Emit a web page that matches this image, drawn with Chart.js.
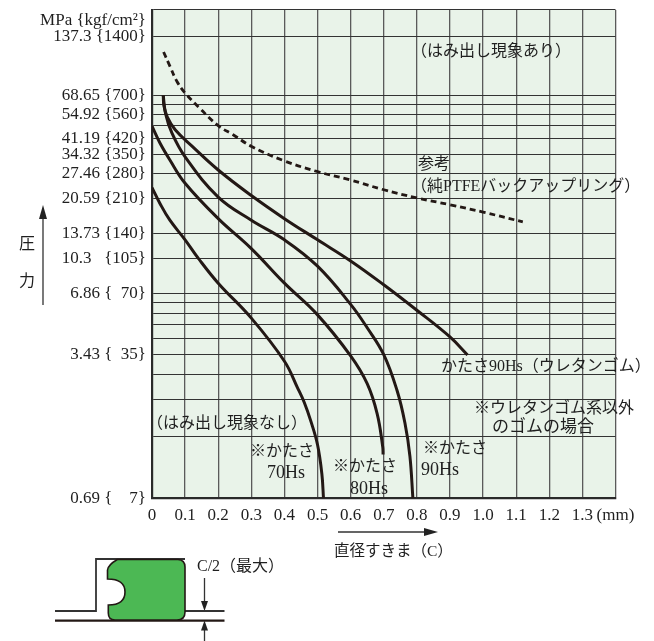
<!DOCTYPE html>
<html lang="ja">
<head>
<meta charset="utf-8">
<title>圧力と直径すきま</title>
<script src="https://cdn.jsdelivr.net/npm/chart.js@4/dist/chart.umd.js"></script>
<style>
  html, body { margin: 0; padding: 0; background: #fff; }
  canvas { display: block; }
</style>
</head>
<body>
<canvas id="chart" width="654" height="641" style="width:654px;height:641px"></canvas>
<script>
// values: x = diametral clearance (mm), y = pressure (kgf/cm2)
const xTicks = [0, 0.1, 0.2, 0.3, 0.4, 0.5, 0.6, 0.7, 0.8, 0.9, 1.0, 1.1, 1.2, 1.3, 1.4];
const xLabels = ['0', '0.1', '0.2', '0.3', '0.4', '0.5', '0.6', '0.7', '0.8', '0.9', '1.0', '1.1', '1.2', '1.3', '(mm)'];

const yMin = 7;
const yMax = 1930;
const yGrid = [7, 14, 21, 28, 35, 42, 49, 56, 63, 70, 105, 140, 210, 280, 350, 420, 490, 560, 630, 700, 1400, 1930];
const yLabelled = [1400, 700, 560, 420, 350, 280, 210, 140, 105, 70, 35, 7];
const yLabels = ['137.3 {1400}', '68.65 {700}', '54.92 {560}', '41.19 {420}', '34.32 {350}', '27.46 {280}',
  '20.59 {210}', '13.73 {140}', '10.3   {105}', '6.86 {  70}', '3.43 {  35}', '0.69 {    7}'];

const urethane90X = [0.034, 0.036, 0.046, 0.07, 0.12, 0.20, 0.30, 0.40, 0.50, 0.60, 0.70, 0.80, 0.90, 0.953];
const urethane90Y = [700, 620, 544, 467, 387, 292, 217, 166, 130, 102, 77.6, 58, 42.8, 34.9];

const hs90X = [0.034, 0.041, 0.06, 0.10, 0.20, 0.30, 0.40, 0.50, 0.60, 0.65, 0.70, 0.74, 0.764, 0.779, 0.788];
const hs90Y = [700, 565, 450, 340, 213, 163, 130, 96, 62, 47.5, 35, 23.4, 16.2, 11.2, 7];

const hs80X = [0, 0.024, 0.054, 0.10, 0.20, 0.30, 0.40, 0.50, 0.60, 0.65, 0.68, 0.697, 0.698];
const hs80Y = [487, 400, 328, 250, 166, 117.5, 79, 55, 34.5, 25.2, 18, 12.4, 11.4];

const hs70X = [0, 0.024, 0.054, 0.10, 0.14, 0.20, 0.30, 0.40, 0.44, 0.46, 0.48, 0.50, 0.513, 0.518];
const hs70Y = [238, 198, 163, 130, 105, 79, 53, 32.5, 24, 20.4, 16.5, 12.7, 9.2, 7];

const ptfeX = [0.035, 0.054, 0.075, 0.10, 0.145, 0.20, 0.245, 0.301, 0.399, 0.498, 0.599, 0.70, 0.80, 0.90, 1.0, 1.12];
const ptfeY = [1170, 990, 827, 720, 600, 490, 441, 384, 325, 287, 260, 232, 211, 195, 179, 160];

const serif = '"Liberation Serif", "Noto Sans CJK JP", serif';
const cjk = '"Liberation Serif", "Noto Sans CJK JP", sans-serif';
const ink = '#231815';
const textColor = '#1f1f1f';

const toPoints = (xs, ys) => xs.map((x, i) => ({ x: x, y: ys[i] }));

// the printed pressure axis is not a pure log axis, the decades get a little shorter upward
class BentLogScale extends Chart.LogarithmicScale {
  static id = 'bentlog';
  static defaults = {};

  bend(value) {
    const u = Math.log10(value / yMin);
    return u - 0.01493 * u * u;
  }
  getPixelForValue(value) {
    if (value === undefined || value <= 0) return this.bottom;
    return this.bottom - this.height * this.bend(value) / this.bend(yMax);
  }
  getValueForPixel(pixel) {
    const f = (this.bottom - pixel) / this.height * this.bend(yMax);
    const u = (1 - Math.sqrt(1 - 4 * 0.01493 * f)) / (2 * 0.01493);
    return yMin * Math.pow(10, u);
  }
}
Chart.register(BentLogScale);

function curve(xs, ys, dashed) {
  return {
    data: toPoints(xs, ys),
    borderColor: ink,
    borderWidth: dashed ? 2.8 : 3,
    borderDash: dashed ? [6, 4] : [],
    pointRadius: 0,
    showLine: true,
    fill: false,
    tension: 0.4,
    borderJoinStyle: 'round'
  };
}

// light green panel behind the grid
const panel = {
  id: 'panel',
  beforeDraw(chart) {
    const a = chart.chartArea;
    chart.ctx.fillStyle = '#e9f3e9';
    chart.ctx.fillRect(a.left, a.top, a.width, a.height);
  }
};

function note(ctx, text, x, y, size) {
  ctx.font = size + 'px ' + cjk;
  ctx.fillStyle = textColor;
  ctx.textAlign = 'left';
  ctx.textBaseline = 'middle';
  ctx.fillText(text, x, y);
}

function arrowHead(ctx, x, y, dx, dy, len, half) {
  ctx.beginPath();
  ctx.moveTo(x, y);
  ctx.lineTo(x - dx * len - dy * half, y - dy * len - dx * half);
  ctx.lineTo(x - dx * len + dy * half, y - dy * len + dx * half);
  ctx.closePath();
  ctx.fill();
}

// texts that sit on the chart, axis arrows and the little seal drawing
const notes = {
  id: 'notes',
  afterDraw(chart) {
    const ctx = chart.ctx;
    ctx.save();

    note(ctx, '（はみ出し現象あり）', 411, 52, 16);
    note(ctx, '参考', 418, 165, 16);
    note(ctx, '（純PTFEバックアップリング）', 411, 187, 16);
    note(ctx, 'かたさ90Hs（ウレタンゴム）', 441, 367, 16);
    note(ctx, '※ウレタンゴム系以外', 474, 409, 16);
    note(ctx, 'のゴムの場合', 492, 428, 17);
    note(ctx, '※かたさ', 423, 449, 16);
    note(ctx, '90Hs', 421, 470, 18);
    note(ctx, '※かたさ', 333, 467, 16);
    note(ctx, '80Hs', 350, 489, 18);
    note(ctx, '※かたさ', 250, 452, 16);
    note(ctx, '70Hs', 267, 473, 18);
    note(ctx, '（はみ出し現象なし）', 147, 424, 16);

    note(ctx, '圧', 19, 245, 16);
    note(ctx, '力', 19, 282, 16);
    note(ctx, '直径すきま（C）', 334, 552, 15.5);
    note(ctx, 'C/2（最大）', 197, 567, 16);

    ctx.font = '17px ' + serif;
    ctx.textAlign = 'right';
    ctx.fillText('MPa {kgf/cm²}', 146, 21);

    // arrows
    ctx.strokeStyle = '#333';
    ctx.fillStyle = '#222';
    ctx.lineWidth = 1.3;
    ctx.beginPath();
    ctx.moveTo(43, 305);
    ctx.lineTo(43, 215);
    ctx.moveTo(338, 532);
    ctx.lineTo(430, 532);
    ctx.moveTo(204.5, 578);
    ctx.lineTo(204.5, 605);
    ctx.moveTo(204.5, 641);
    ctx.lineTo(204.5, 626);
    ctx.stroke();
    arrowHead(ctx, 43, 205, 0, -1, 14, 4);
    arrowHead(ctx, 438, 532, 1, 0, 14, 4);
    arrowHead(ctx, 204.5, 611, 0, 1, 10, 3.5);
    arrowHead(ctx, 204.5, 620.5, 0, -1, 10, 3.5);

    // seal housing
    ctx.strokeStyle = '#333';
    ctx.lineWidth = 1.8;
    ctx.beginPath();
    ctx.moveTo(55, 611);
    ctx.lineTo(96, 611);
    ctx.lineTo(96, 559);
    ctx.lineTo(185, 559);
    ctx.moveTo(185, 611);
    ctx.lineTo(224.5, 611);
    ctx.stroke();
    ctx.lineWidth = 2.2;
    ctx.strokeStyle = ink;
    ctx.beginPath();
    ctx.moveTo(55, 620.7);
    ctx.lineTo(224.5, 620.7);
    ctx.stroke();

    // seal
    ctx.fillStyle = '#4cb854';
    ctx.lineWidth = 1.6;
    ctx.beginPath();
    ctx.moveTo(117.3, 559.5);
    ctx.lineTo(178, 559.5);
    ctx.quadraticCurveTo(185, 560, 185, 567);
    ctx.lineTo(185, 612);
    ctx.quadraticCurveTo(185, 620, 177, 620);
    ctx.lineTo(115, 620);
    ctx.quadraticCurveTo(108.3, 620, 108.3, 613);
    ctx.lineTo(108.3, 605);
    ctx.quadraticCurveTo(125, 605, 125, 592);
    ctx.quadraticCurveTo(125, 579, 107.5, 579);
    ctx.lineTo(107.5, 570);
    ctx.quadraticCurveTo(108, 565, 117.3, 559.5);
    ctx.closePath();
    ctx.fill();
    ctx.stroke();

    ctx.restore();
  }
};

const chart = new Chart(document.getElementById('chart'), {
  type: 'scatter',
  data: {
    datasets: [
      curve(urethane90X, urethane90Y, false),
      curve(hs90X, hs90Y, false),
      curve(hs80X, hs80Y, false),
      curve(hs70X, hs70Y, false),
      curve(ptfeX, ptfeY, true)
    ]
  },
  options: {
    responsive: false,
    animation: false,
    devicePixelRatio: 1,
    layout: { padding: { top: 10, right: 38.5, left: 0, bottom: 0 } },
    plugins: { legend: { display: false }, tooltip: { enabled: false } },
    scales: {
      x: {
        type: 'linear',
        min: 0,
        max: 1.4,
        afterBuildTicks: scale => { scale.ticks = xTicks.map(v => ({ value: v })); },
        afterFit: scale => { scale.height = 142.7; },
        border: { color: '#2a2a2a', width: 2.2 },
        grid: { color: '#5a5a5a', lineWidth: 1.3, drawTicks: false },
        ticks: {
          autoSkip: false,
          maxRotation: 0,
          padding: 7,
          color: textColor,
          font: { family: serif, size: 17 },
          callback: (value, i) => xLabels[i]
        }
      },
      y: {
        type: 'bentlog',
        min: yMin,
        max: yMax,
        afterBuildTicks: scale => { scale.ticks = yGrid.map(v => ({ value: v })); },
        afterFit: scale => {
          scale.width = 152;
          scale.paddingTop = 0;
          scale.paddingBottom = 0;
        },
        border: { color: '#2a2a2a', width: 2.2 },
        grid: { color: '#333', lineWidth: 1.1, drawTicks: false },
        ticks: {
          autoSkip: false,
          padding: 6,
          color: textColor,
          font: { family: serif, size: 17 },
          callback: value => {
            const i = yLabelled.indexOf(value);
            return i >= 0 ? yLabels[i] : '';
          }
        }
      }
    }
  },
  plugins: [panel, notes]
});
</script>
</body>
</html>
